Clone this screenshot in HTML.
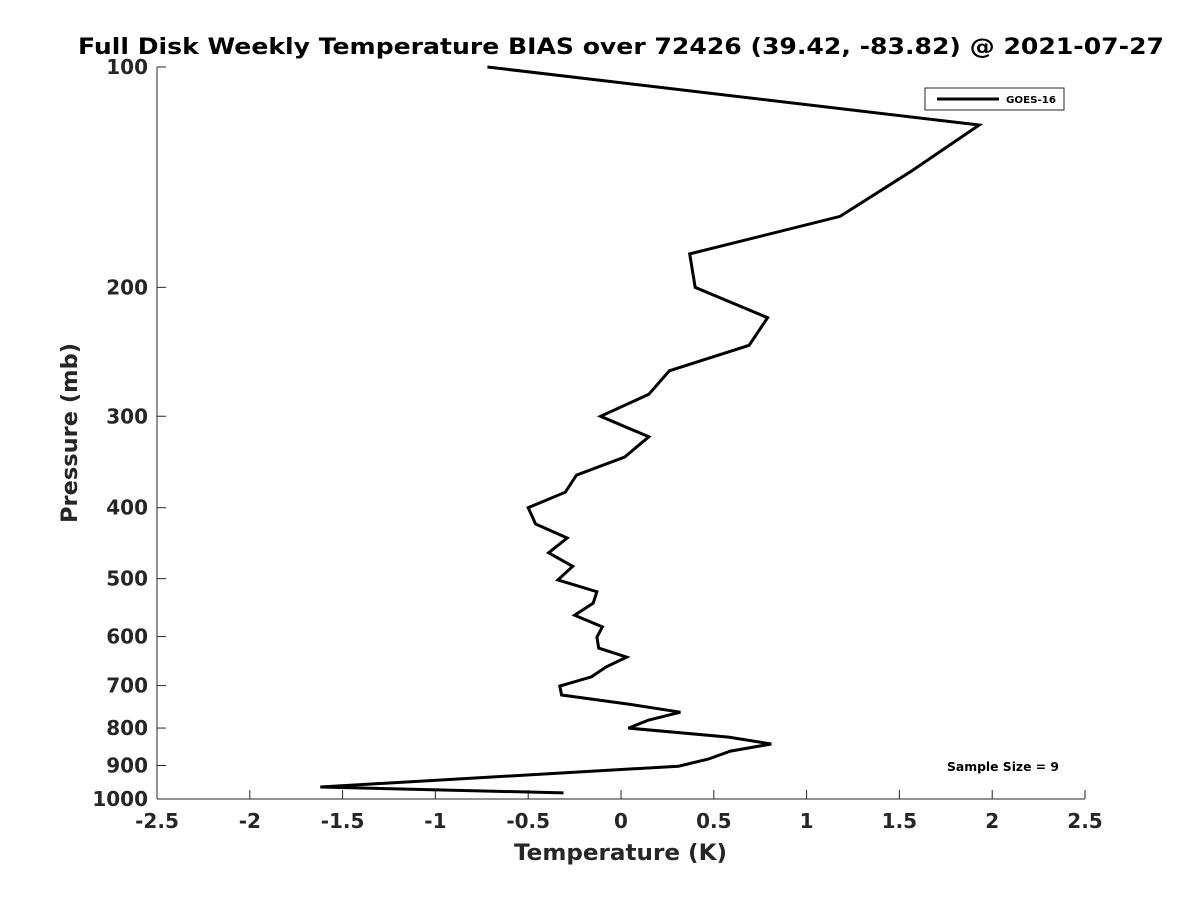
<!DOCTYPE html>
<html><head><meta charset="utf-8"><style>
body{margin:0;background:#fff;}
svg text{font-family:"DejaVu Sans","Liberation Sans",sans-serif;font-weight:bold;fill:#262626;}
</style></head><body>
<svg id="chart" width="1200" height="900" xmlns="http://www.w3.org/2000/svg">
<text x="78" y="54" font-size="22" textLength="1086" lengthAdjust="spacingAndGlyphs" style="fill:#000">Full Disk Weekly Temperature BIAS over 72426 (39.42, -83.82) @ 2021-07-27</text>
<g id="axes"></g>
<path id="series" fill="none" stroke="#000" stroke-width="3" stroke-linejoin="miter"/>
<g>
<rect x="925" y="88" width="139" height="22" fill="#fff" stroke="#262626" stroke-width="1"/>
<line x1="937" y1="99" x2="999" y2="99" stroke="#000" stroke-width="3"/>
<text x="1006" y="103" font-size="10" textLength="50" lengthAdjust="spacingAndGlyphs" style="fill:#000">GOES-16</text>
</g>
<text x="947" y="771" font-size="12" textLength="112" lengthAdjust="spacingAndGlyphs" style="fill:#000">Sample Size = 9</text>
<text x="514" y="860" font-size="22" textLength="213" lengthAdjust="spacingAndGlyphs">Temperature (K)</text>
<text transform="translate(77,523) rotate(-90)" font-size="22" textLength="180" lengthAdjust="spacingAndGlyphs">Pressure (mb)</text>
</svg>
<script>
const temps = [-0.72,1.93,1.56,1.18,0.37,0.40,0.79,0.69,0.26,0.15,-0.11,0.15,0.02,-0.24,-0.30,-0.50,-0.46,-0.29,-0.39,-0.26,-0.34,-0.13,-0.15,-0.25,-0.10,-0.13,-0.12,0.03,-0.08,-0.16,-0.33,-0.32,0.04,0.32,0.15,0.04,0.58,0.81,0.59,0.47,0.31,-1.62,-0.31];
const pressures = [100,120,139,160,180,200,220,240,260,280,300,320,341,361,381,400,421,440,461,481,502,521,540,561,582,601,622,640,660,681,701,721,742,761,780,800,823,841,860,882,902,963,981];
const xTicks = [-2.5,-2,-1.5,-1,-0.5,0,0.5,1,1.5,2,2.5];
const xTickLabels = ["-2.5","-2","-1.5","-1","-0.5","0","0.5","1","1.5","2","2.5"];
const yTicks = [100,200,300,400,500,600,700,800,900,1000];
const yTickLabels = ["100","200","300","400","500","600","700","800","900","1000"];

const L=157,R=1085,T=67,B=799;
function xs(v){return L+(v+2.5)/5*(R-L);}
function ys(p){return T+(Math.log10(p)-2)*(B-T);}
const ns="http://www.w3.org/2000/svg";
const ax=document.getElementById('axes');
function mk(tag,attrs,parent){const e=document.createElementNS(ns,tag);for(const k in attrs)e.setAttribute(k,attrs[k]);parent.appendChild(e);return e;}
const xl=mk('line',{x1:L,y1:B,x2:R,y2:B,stroke:'#262626','stroke-width':1},ax);


const yl=mk('line',{x1:L,y1:T,x2:L,y2:B,stroke:'#262626','stroke-width':1},ax);


xTicks.forEach((v,i)=>{
  const x=xs(v);
  const t=mk('line',{x1:x,y1:B,x2:x,y2:B-9,stroke:'#262626'},ax);
  
  
  const lb=mk('text',{x:x,y:B+29,'text-anchor':'middle','font-size':20},ax);
  lb.textContent=xTickLabels[i];
  
  
});
yTicks.forEach((p,i)=>{
  const y=ys(p);
  const t=mk('line',{x1:L,y1:y,x2:L+9,y2:y,stroke:'#262626'},ax);
  
  
  const lb=mk('text',{x:L-9,y:y+7,'text-anchor':'end','font-size':20},ax);
  lb.textContent=yTickLabels[i];
  
  
});
document.getElementById('series').setAttribute('d',temps.map((t,i)=>(i?'L':'M')+xs(t).toFixed(1)+','+ys(pressures[i]).toFixed(1)).join(' '));
</script>
</body></html>
